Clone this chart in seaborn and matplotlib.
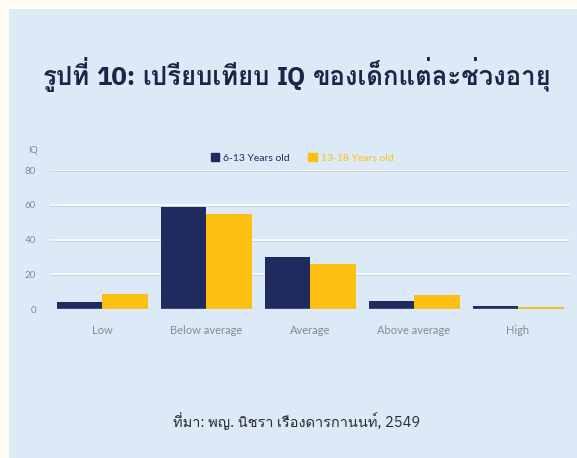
import matplotlib
matplotlib.use("Agg")
import matplotlib.pyplot as plt
from matplotlib.patches import Rectangle
import seaborn as sns
import pandas as pd
import logging
logging.getLogger("matplotlib.font_manager").setLevel(logging.ERROR)

categories = ["Low", "Below average", "Average", "Above average", "High"]
series_names = ["6-13 Years old", "13-18 Years old"]
values_6_13 = [4, 58.5, 30, 5, 2]
values_13_18 = [9, 55, 26, 8, 1.5]
y_ticks = [0, 20, 40, 60, 80]
title_text = "รูปที่ 10: เปรียบเทียบ IQ ของเด็กแต่ละช่วงอายุ"
source_text = "ที่มา: พญ. นิชรา เรืองดารกานนท์, 2549"

sns.set_theme(style="white")
thai_fam = ['Loma', 'DejaVu Sans']
latin_title_fam = ['IBM Plex Sans Thai', 'DejaVu Sans']
source_fam = ['IBM Plex Sans', 'DejaVu Sans', 'Loma']
chart_fam = ['Lato', 'DejaVu Sans']
plt.rcParams['font.family'] = chart_fam

navy = "#1f2a5e"
yellow = "#fec010"
panel = "#dce9f6"
outer = "#fffdf3"

W, H = 577, 458
fig = plt.figure(figsize=(W / 100, H / 100), dpi=100)
fig.patch.set_facecolor(outer)
fig.patches.append(Rectangle((9/W, -0.1), 1.2, 1.1 - 9/H, transform=fig.transFigure,
                             facecolor=panel, edgecolor="none", zorder=-10))

ax = fig.add_axes([50/W, 1 - 309.3/H, 520/W, 139.3/H])
ax.set_facecolor("none")

df = pd.DataFrame({
    "cat": categories * 2,
    "val": values_6_13 + values_13_18,
    "series": [series_names[0]] * len(categories) + [series_names[1]] * len(categories),
})
sns.barplot(data=df, x="cat", y="val", hue="series", palette=[navy, yellow],
            width=0.875, gap=0, ax=ax, saturation=1, legend=False, zorder=3,
            linewidth=0, edgecolor="none")

ax.set_xlim(-0.5, 4.5)
ax.set_ylim(0, 80)
ax.set_yticks(y_ticks)
for t in y_ticks[1:]:
    ax.axhline(t, color="#c9d3de", lw=2.2, zorder=1)
    ax.axhline(t, color="white", lw=1.2, zorder=2)
ax.axhline(0, color="#c3ccd6", lw=1.0, zorder=4)
for s in ax.spines.values():
    s.set_visible(False)
ax.set_xlabel("")
ax.set_ylabel("")
ax.tick_params(axis="y", length=0, pad=10, labelsize=7, labelcolor="#858b95")
ax.tick_params(axis="x", length=0, pad=11, labelsize=8, labelcolor="#858b95")

fig.text(28/W, 1 - 151/H, "IQ", fontsize=6.5, color="#858b95", ha="left", va="center")

handles = [Rectangle((0, 0), 1, 1, color=navy), Rectangle((0, 0), 1, 1, color=yellow)]
leg = fig.legend(handles, series_names, loc="center", bbox_to_anchor=(302/W, 1 - 158/H),
                 ncol=2, frameon=False, fontsize=7.5, handlelength=0.8, handleheight=0.8,
                 handletextpad=0.4, columnspacing=1.8, labelcolor=[navy, yellow])

# title: Thai words in Loma, Latin words in IBM Plex (bold), laid out word by word
def is_thai(word):
    return any(0x0E00 <= ord(c) <= 0x0E7F for c in word)

title_size = 18.5
baseline_y = 1 - 85/H
words = title_text.split(" ")
renderer = fig.canvas.get_renderer()
pieces = []
for w in words:
    fam = thai_fam if is_thai(w) else latin_title_fam
    pieces.append(fig.text(0, baseline_y, w, fontsize=title_size, fontweight="bold",
                           color="#1a2547", ha="left", va="baseline", family=fam))
widths = [p.get_window_extent(renderer).width for p in pieces]
gap = 0.27 * title_size * 100 / 72
total = sum(widths) + gap * (len(pieces) - 1)
x = 297 - total / 2
for p, wd in zip(pieces, widths):
    p.set_x(x / W)
    x += wd + gap

fig.text(297/W, 1 - 421/H, source_text, fontsize=10.5, color="#2a2a2a",
         ha="center", va="center", family=source_fam, fontweight="normal")

fig.savefig("out.png", dpi=100, facecolor=fig.get_facecolor())
